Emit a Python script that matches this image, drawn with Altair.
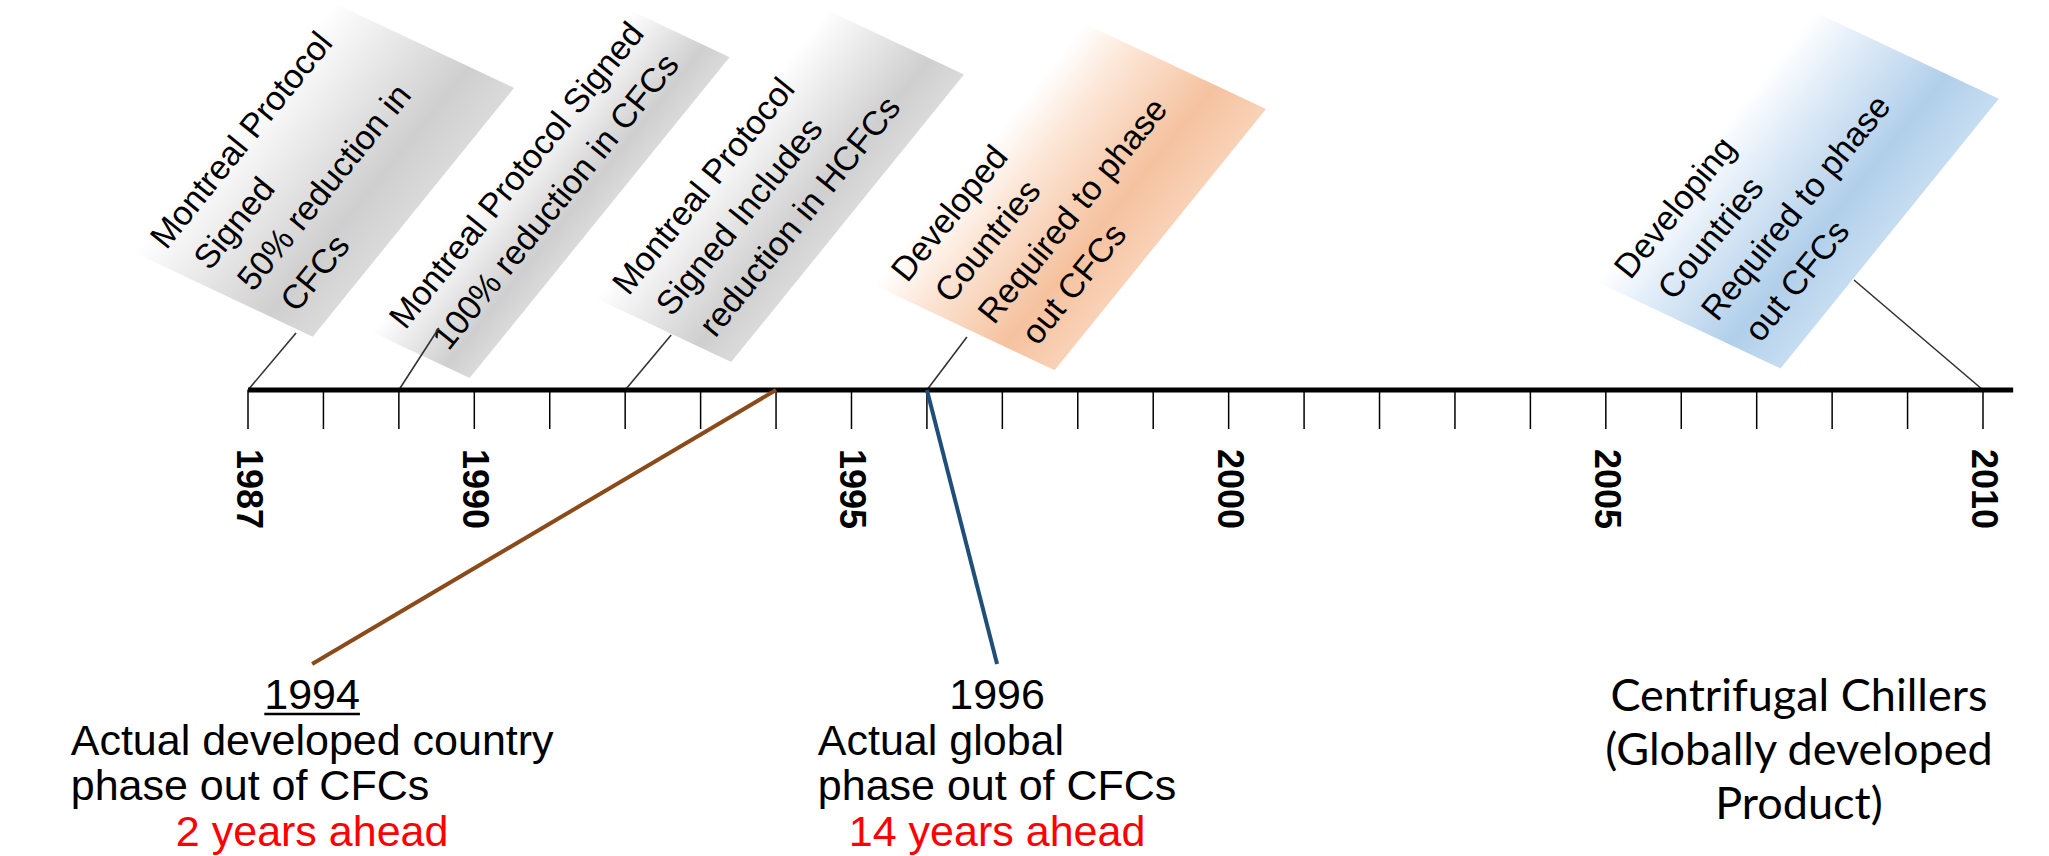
import math
import altair as alt
import pandas as pd

W, H = 2049, 856

# ---- timeline ---------------------------------------------------------------
TICK_YEARS = list(range(1987, 2011))
LABEL_YEARS = [1987, 1990, 1995, 2000, 2005, 2010]
AXIS_SPAN = [1987, 2010.4]

# ---- callouts above the axis -------------------------------------------------
CALLOUT_YEARS = [1987, 1989, 1992, 1996, 2010]
CALLOUT_TEXT = [
    ["Montreal Protocol", "Signed", "50% reduction in", "CFCs"],
    ["Montreal Protocol Signed", "100% reduction in CFCs"],
    ["Montreal Protocol", "Signed Includes", "reduction in HCFCs"],
    ["Developed", "Countries", "Required to phase", "out CFCs"],
    ["Developing", "Countries", "Required to phase", "out CFCs"],
]
CALLOUT_TONE = ["grey", "grey", "grey", "orange", "blue"]

# ---- milestones below the axis ---------------------------------------------
MILESTONE_YEARS = [1994, 1996]
MILESTONE_LABEL_AT = [1987.85, 1996.93]   # label centre, on the year axis
MILESTONE_COLORS = ["#8B4A1A", "#1F4E79"]
MILESTONE_TITLE = ["1994", "1996"]
MILESTONE_UNDERLINE = [True, False]
MILESTONE_BODY = [
    ["Actual developed country", "phase out of CFCs"],
    ["Actual global", "phase out of CFCs"],
]
MILESTONE_AHEAD = ["2 years ahead", "14 years ahead"]

CHILLER_TEXT = ["Centrifugal Chillers", "(Globally developed", "Product)"]
CHILLER_AT = 2007.56

# ---- layout (pixels) -------------------------------------------------------
PPY = 1735 / 23                 # pixels per year
X0 = 1987 - 248 / PPY           # year at the left edge of the canvas
X1 = X0 + W / PPY

AXIS_ROW = 390
TICK_LEN = 39
LABEL_ROW = 449
ANGLE = 309                     # callout text direction (clockwise degrees)
SHEAR = 0.245
BOX_DX = [-115, -27, -30, -53, -386]
BOX_ROW = [252, 332, 298, 285, 282]
BOX_LEN = [320, 413, 370, 336, 347]
BOX_DEPTH = [193, 105, 146, 194, 197]
LEADER_DX = [48, 40, 46, 40, -129]
LEADER_ROW = [333, 328, 335, 337, 280]
LINE_START = (22, 25)
LINE_STEP = (11, 47)
CALLOUT_FONT = 34

MILESTONE_END_ROW = 664
TITLE_ROW, BODY_ROWS, AHEAD_ROW = 709, [755, 800], 846
BOTTOM_FONT = 43
CHILLER_ROWS = [711, 765, 819]
CHILLER_FONT = 45

SANS = "Liberation Sans, Arial, sans-serif"

# Arial advance widths (per em) for measuring the label blocks
ARIAL_W = {"A": .667, "c": .5, "t": .278, "u": .556, "a": .556, "l": .222, " ": .278,
           "d": .556, "e": .556, "v": .5, "o": .556, "p": .556, "n": .556, "r": .333,
           "y": .5, "h": .556, "s": .5, "f": .278, "C": .722, "F": .611, "g": .556,
           "b": .556, "1": .556, "9": .556, "4": .556, "6": .556}


def text_width(s, size):
    return sum(ARIAL_W.get(ch, .556) for ch in s) * size


def shift(year, px):
    return year + px / PPY


x_scale = alt.Scale(domain=[X0, X1], nice=False, zero=False)
y_scale = alt.Scale(domain=[H, 0], nice=False, zero=False)


def X(field="x"):
    return alt.X(f"{field}:Q", scale=x_scale, axis=None)


def Y(field="row"):
    return alt.Y(f"{field}:Q", scale=y_scale, axis=None)


# ---- build tables ----------------------------------------------------------
theta = math.radians(ANGLE)
ct, st = math.cos(theta), math.sin(theta)

boxes, box_text, leaders = [], [], []
for i, year in enumerate(CALLOUT_YEARS):
    L, D = BOX_LEN[i], BOX_DEPTH[i]
    path = (f"M0,0L{L:.1f},0L{L + SHEAR * D:.1f},{D:.1f}"
            f"L{SHEAR * D:.1f},{D:.1f}Z")
    boxes.append(dict(x=shift(year, BOX_DX[i]), row=BOX_ROW[i], path=path,
                      rot=ANGLE, tone=CALLOUT_TONE[i]))
    for j, line in enumerate(CALLOUT_TEXT[i]):
        u = LINE_START[0] + j * LINE_STEP[0]
        v = LINE_START[1] + j * LINE_STEP[1]
        dx = u * ct - v * st
        dy = u * st + v * ct
        box_text.append(dict(x=shift(year, BOX_DX[i] + dx), row=BOX_ROW[i] + dy,
                             text=line))
    leaders.append(dict(x=year, row=AXIS_ROW, x2=shift(year, LEADER_DX[i]),
                        row2=LEADER_ROW[i]))

boxes = pd.DataFrame(boxes)
box_text = pd.DataFrame(box_text)
leaders = pd.DataFrame(leaders)

axis_line = pd.DataFrame([dict(x=AXIS_SPAN[0], x2=AXIS_SPAN[1], row=AXIS_ROW)])
ticks = pd.DataFrame([dict(x=y, row=AXIS_ROW, row2=AXIS_ROW + TICK_LEN)
                      for y in TICK_YEARS])
year_labels = pd.DataFrame([dict(x=y, row=LABEL_ROW, text=str(y))
                            for y in LABEL_YEARS])

milestone_lines = pd.DataFrame([
    dict(x=y, row=AXIS_ROW, x2=at, row2=MILESTONE_END_ROW, col=c)
    for y, at, c in zip(MILESTONE_YEARS, MILESTONE_LABEL_AT, MILESTONE_COLORS)
])

centre_black, left_black, centre_red, underline = [], [], [], []
for k, at in enumerate(MILESTONE_LABEL_AT):
    centre_black.append(dict(x=at, row=TITLE_ROW, text=MILESTONE_TITLE[k]))
    if MILESTONE_UNDERLINE[k]:
        half = text_width(MILESTONE_TITLE[k], BOTTOM_FONT) / 2
        underline.append(dict(x=shift(at, -half), x2=shift(at, half), row=TITLE_ROW + 5))
    widest = max(text_width(s, BOTTOM_FONT) for s in MILESTONE_BODY[k])
    for r, line in zip(BODY_ROWS, MILESTONE_BODY[k]):
        left_black.append(dict(x=shift(at, -widest / 2), row=r, text=line))
    centre_red.append(dict(x=at, row=AHEAD_ROW, text=MILESTONE_AHEAD[k]))

chiller = pd.DataFrame([dict(x=CHILLER_AT, row=r, text=t)
                        for r, t in zip(CHILLER_ROWS, CHILLER_TEXT)])


def gradient(stops):
    return alt.LinearGradient(
        gradient="linear", x1=0, y1=0, x2=0, y2=1,
        stops=[alt.GradientStop(offset=o, color=c) for o, c in stops])


TONES = {
    "grey": [(0, "#ffffff"), (0.2, "#f2f2f2"), (0.75, "#cfcfcf"), (1, "#dadada")],
    "orange": [(0, "#ffffff"), (0.25, "#fce7d8"), (0.72, "#f5c29f"), (1, "#f9d2b7")],
    "blue": [(0, "#ffffff"), (0.25, "#e2edf8"), (0.72, "#b1cfea"), (1, "#c6ddf1")],
}

layers = []

# callout boxes (sheared, rotated panels)
for tone, stops in TONES.items():
    layers.append(
        alt.Chart(boxes[boxes.tone == tone]).mark_point(
            filled=True, opacity=1, fillOpacity=1, strokeWidth=0, size=4,
            fill=gradient(stops)
        ).encode(
            x=X(), y=Y(),
            shape=alt.Shape("path:N", scale=None),
            angle=alt.Angle("rot:Q", scale=None),
        )
    )

layers.append(
    alt.Chart(box_text).mark_text(
        align="left", baseline="alphabetic", angle=ANGLE, font=SANS,
        fontSize=CALLOUT_FONT, color="#000000"
    ).encode(x=X(), y=Y(), text="text:N")
)

layers.append(
    alt.Chart(leaders).mark_rule(color="#333333", strokeWidth=1.6).encode(
        x=X(), y=Y(), x2="x2:Q", y2="row2:Q")
)

# yearly ticks, the timeline bar and the year labels
layers.append(
    alt.Chart(ticks).mark_rule(color="#000000", strokeWidth=1.5).encode(
        x=X(), y=Y(), y2="row2:Q")
)
layers.append(
    alt.Chart(axis_line).mark_rule(color="#000000", strokeWidth=5).encode(
        x=X(), x2="x2:Q", y=Y())
)
layers.append(
    alt.Chart(year_labels).mark_text(
        align="left", baseline="middle", angle=90, font=SANS, fontSize=36,
        fontWeight="bold", color="#000000"
    ).encode(x=X(), y=Y(), text="text:N")
)

layers.append(
    alt.Chart(milestone_lines).mark_rule(strokeWidth=4).encode(
        x=X(), y=Y(), x2="x2:Q", y2="row2:Q",
        color=alt.Color("col:N", scale=None))
)

layers.append(
    alt.Chart(pd.DataFrame(underline)).mark_rule(color="#000000", strokeWidth=2.5)
    .encode(x=X(), x2="x2:Q", y=Y())
)

layers.append(
    alt.Chart(pd.DataFrame(centre_black)).mark_text(
        align="center", baseline="alphabetic", font=SANS, fontSize=BOTTOM_FONT,
        color="#000000").encode(x=X(), y=Y(), text="text:N")
)
layers.append(
    alt.Chart(pd.DataFrame(left_black)).mark_text(
        align="left", baseline="alphabetic", font=SANS, fontSize=BOTTOM_FONT,
        color="#000000").encode(x=X(), y=Y(), text="text:N")
)
layers.append(
    alt.Chart(pd.DataFrame(centre_red)).mark_text(
        align="center", baseline="alphabetic", font=SANS, fontSize=BOTTOM_FONT,
        color="#FF0000").encode(x=X(), y=Y(), text="text:N")
)
layers.append(
    alt.Chart(chiller).mark_text(
        align="center", baseline="alphabetic", font="Lato, sans-serif",
        fontSize=CHILLER_FONT, color="#000000").encode(x=X(), y=Y(), text="text:N")
)

chart = alt.layer(*layers).properties(
    width=W, height=H, padding=0, background="white",
    autosize=alt.AutoSizeParams(type="none"),
).configure_view(strokeWidth=0)

chart.save("out.html", embed_options={"renderer": "svg", "actions": False})
